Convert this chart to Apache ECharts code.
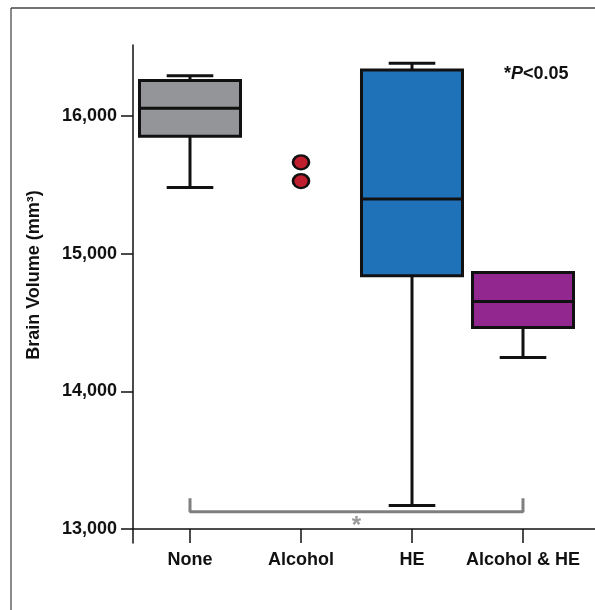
<!DOCTYPE html>
<html>
<head>
<meta charset="utf-8">
<script src="https://cdn.jsdelivr.net/npm/echarts@6/dist/echarts.min.js"></script>
<style>
html, body { margin: 0; padding: 0; background: #fff; }
#chart { width: 595px; height: 610px; }
</style>
</head>
<body>
<div id="chart"></div>
<script>
// brain volume box plot by group
const categories = ['None', 'Alcohol', 'HE', 'Alcohol & HE'];
const whiskerLow = [15481, null, 13173, 14247];
const quartile1 = [15853, null, 14840, 14465];
const medians = [16057, null, 15397, 14653];
const quartile3 = [16258, null, 16334, 14865];
const whiskerHigh = [16293, null, 16383, 14865];
const outliers = [[1, 15664], [1, 15528]];
const yTicks = [13000, 14000, 15000, 16000];
const sigPair = [0, 3];
const bracketTop = 13225;
const bracketBase = 13127;
const starLevel = 13020;

const boxColors = ['#939598', null, '#1f71b8', '#92278f'];
const ink = '#111';
const font = 'Liberation Sans, Arial, sans-serif';

const boxData = [];
categories.forEach((c, i) => {
    if (medians[i] == null) return;
    boxData.push([i, whiskerLow[i], quartile1[i], medians[i], quartile3[i], whiskerHigh[i]]);
});

function seg(x1, y1, x2, y2) {
    return { type: 'line', shape: { x1, y1, x2, y2 }, style: { stroke: ink, lineWidth: 3 } };
}

function renderBox(params, api) {
    const i = api.value(0);
    const lo = api.coord([i, api.value(1)]);
    const q1 = api.coord([i, api.value(2)]);
    const med = api.coord([i, api.value(3)]);
    const q3 = api.coord([i, api.value(4)]);
    const hi = api.coord([i, api.value(5)]);
    const boxW = api.size([0.91, 0])[0];
    const capW = api.size([0.42, 0])[0];
    const x = med[0];
    return {
        type: 'group',
        children: [
            seg(x, q3[1], x, hi[1]),
            seg(x - capW / 2, hi[1], x + capW / 2, hi[1]),
            seg(x, q1[1], x, lo[1]),
            seg(x - capW / 2, lo[1], x + capW / 2, lo[1]),
            {
                type: 'rect',
                shape: { x: x - boxW / 2, y: q3[1], width: boxW, height: q1[1] - q3[1] },
                style: { fill: boxColors[i], stroke: ink, lineWidth: 3 }
            },
            seg(x - boxW / 2, med[1], x + boxW / 2, med[1])
        ]
    };
}

const myChart = echarts.init(document.getElementById('chart'));
const option = {
    animation: false,
    title: {
        text: '{a|*}{p|P}{a|<0.05}',
        left: 499,
        top: 60,
        textStyle: {
            rich: {
                a: { fontFamily: font, fontSize: 18, fontWeight: 'bold', color: ink },
                p: { fontFamily: font, fontSize: 18, fontWeight: 'bold', fontStyle: 'italic', color: ink }
            }
        }
    },
    graphic: [
        { type: 'line', shape: { x1: 11, y1: 8, x2: 11, y2: 610 }, style: { stroke: '#8a8a8a', lineWidth: 2 } },
        { type: 'line', shape: { x1: 11, y1: 8, x2: 595, y2: 8 }, style: { stroke: '#444', lineWidth: 1.5 } }
    ],
    grid: { left: 133, right: 0, top: 45, bottom: 67 },
    xAxis: {
        type: 'value',
        min: -57 / 111,
        max: 405 / 111,
        offset: -14,
        splitLine: { show: false },
        axisLine: { onZero: false, lineStyle: { color: ink, width: 1.5 } },
        axisTick: { customValues: [0, 1, 2, 3], length: 14, lineStyle: { color: ink, width: 1.5 } },
        axisLabel: {
            customValues: [0, 1, 2, 3],
            formatter: v => categories[v],
            margin: 22,
            color: ink,
            fontFamily: font,
            fontSize: 18,
            fontWeight: 'bold'
        }
    },
    yAxis: {
        type: 'value',
        min: 12900,
        max: 16516,
        name: 'Brain Volume (mm³)',
        nameLocation: 'middle',
        nameGap: 90,
        nameMoveOverlap: false,
        nameTextStyle: { color: ink, fontFamily: font, fontSize: 18, fontWeight: 'bold', padding: [0, 0, 0, 38] },
        splitLine: { show: false },
        axisLine: { show: true, onZero: false, lineStyle: { color: ink, width: 1.5 } },
        axisTick: { show: true, customValues: yTicks, length: 12, lineStyle: { color: ink, width: 1.5 } },
        axisLabel: {
            customValues: yTicks,
            formatter: v => v.toLocaleString('en-US'),
            margin: 16,
            color: ink,
            fontFamily: font,
            fontSize: 18,
            fontWeight: 'bold'
        }
    },
    series: [
        {
            type: 'line',
            data: [[sigPair[0], bracketTop], [sigPair[0], bracketBase], [sigPair[1], bracketBase], [sigPair[1], bracketTop]],
            symbol: 'none',
            lineStyle: { color: '#7f7f7f', width: 3 },
            silent: true
        },
        {
            type: 'scatter',
            data: [[(sigPair[0] + sigPair[1]) / 2, starLevel]],
            symbolSize: 1,
            itemStyle: { color: 'transparent' },
            label: { show: true, position: 'inside', formatter: '*', color: '#7f7f7f', fontFamily: font, fontSize: 24, fontWeight: 'bold' }
        },
        {
            type: 'custom',
            data: boxData,
            encode: { x: 0, y: [1, 2, 3, 4, 5] },
            renderItem: renderBox
        },
        {
            type: 'scatter',
            data: outliers,
            symbol: 'circle',
            symbolSize: [16, 14],
            itemStyle: { color: '#be1e2d', opacity: 1, borderColor: ink, borderWidth: 2.5 }
        }
    ]
};
option && myChart.setOption(option);
</script>
</body>
</html>
